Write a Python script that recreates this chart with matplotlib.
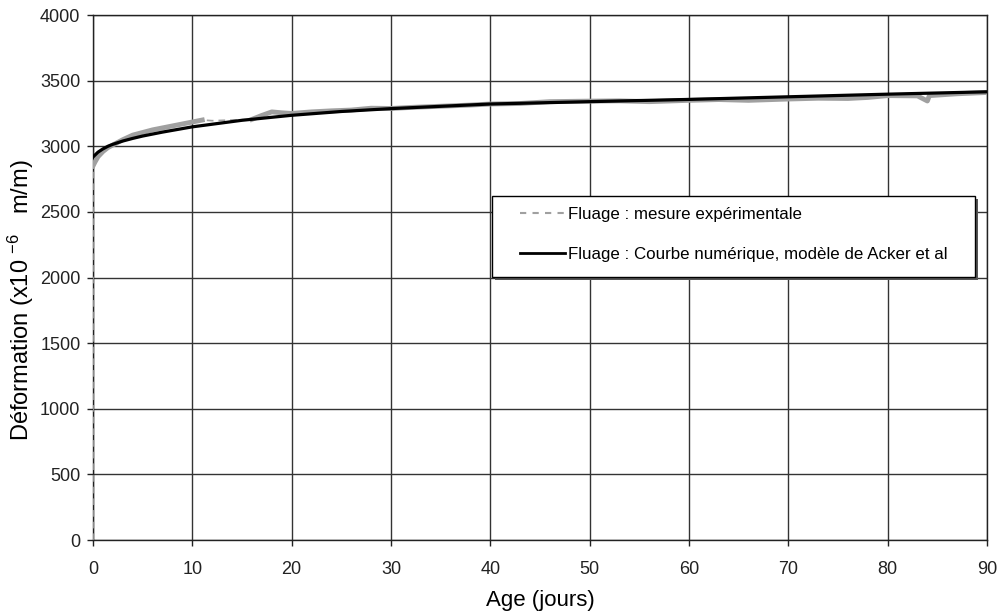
import matplotlib
matplotlib.use("Agg")
import matplotlib.pyplot as plt
from matplotlib.lines import Line2D
from matplotlib.patches import Rectangle

plt.rcParams['font.family'] = ['Liberation Sans', 'DejaVu Sans']
plt.rcParams['mathtext.fontset'] = 'custom'
plt.rcParams['mathtext.rm'] = 'Liberation Sans'
plt.rcParams['mathtext.it'] = 'Liberation Sans'
plt.rcParams['mathtext.default'] = 'rm'

# Creep test: measured strain (grey) and Acker et al. model (black)
meas_age = [0, 0, 0.2, 0.5, 1, 1.5, 2, 3, 4, 5, 6, 7, 8, 9, 10, 11,
            12, 14, 16, 17, 18, 19, 20, 22, 24, 26, 28, 30, 32, 35, 38,
            40, 43, 46, 50, 53, 56, 60, 63, 66, 70, 73, 76, 78, 80, 83,
            84, 84.2, 87, 90]
meas_strain = [0, 2850, 2880, 2920, 2960, 2990, 3010, 3050, 3085, 3105,
               3125, 3140, 3155, 3170, 3185, 3200,
               3195, 3200, 3205, 3235, 3262, 3255, 3250, 3262, 3270,
               3276, 3290, 3288, 3296, 3305, 3314,
               3322, 3326, 3340, 3344, 3346, 3340, 3350, 3356, 3350,
               3360, 3366, 3364, 3372, 3386, 3384,
               3345, 3386, 3400, 3410]

model_age = [0, 0.5, 1, 1.5, 2, 3, 4, 5, 7, 10, 15, 20, 25, 30, 40, 50,
             60, 70, 80, 90]
model_strain = [2918, 2955, 2980, 3000, 3015, 3040, 3060, 3078, 3108,
                3148, 3198, 3236, 3265, 3287, 3322, 3340, 3357, 3377,
                3397, 3415]

x_ticks = [0, 10, 20, 30, 40, 50, 60, 70, 80, 90]
y_ticks = [0, 500, 1000, 1500, 2000, 2500, 3000, 3500, 4000]

fig = plt.figure(figsize=(10.02, 6.13), dpi=100)
ax = fig.add_axes([0.0928, 0.119, 0.8922, 0.8565])

ax.set_xlim(0, 90)
ax.set_ylim(0, 4000)
ax.set_xticks(x_ticks)
ax.set_yticks(y_ticks)
ax.grid(True, color='#333333', lw=1.0)
ax.set_axisbelow(True)
for s in ax.spines.values():
    s.set_color('#222222')
    s.set_linewidth(1.0)
ax.tick_params(direction='out', length=4, width=1, colors='#222222',
               labelsize=13, labelcolor='#222222')
ax.tick_params(axis='x', pad=11)
ax.tick_params(axis='y', pad=5)

grey = '#a0a0a0'
# measured series: thin dashed trace, with the dense parts drawn thicker
ax.plot(meas_age, meas_strain, color=grey, ls=(0, (4, 3)), lw=1.2, zorder=3)
ax.plot(meas_age[1:16], meas_strain[1:16], color=grey, lw=3.5, zorder=3)
ax.plot(meas_age[18:], meas_strain[18:], color=grey, lw=3.5, zorder=3)
# model curve
ax.plot(model_age, model_strain, color='black', lw=2.3, zorder=4)

ax.set_xlabel('Age (jours)', fontsize=16, labelpad=9)
ax.set_ylabel('Déformation (x10 $^{-6}$   m/m)', fontsize=17)
ax.yaxis.set_label_coords(-0.064, 0.457)

# legend box
frame_x0, frame_y0, frame_w, frame_h = 0.4463, 0.501, 0.5403, 0.1542
ax.add_patch(Rectangle((frame_x0 + 0.003, frame_y0 - 0.005), frame_w, frame_h,
                       transform=ax.transAxes, facecolor='#555555',
                       edgecolor='none', zorder=5))
ax.add_patch(Rectangle((frame_x0, frame_y0), frame_w, frame_h,
                       transform=ax.transAxes, facecolor='white',
                       edgecolor='black', lw=1.0, zorder=6))

handles = [Line2D([], [], color=grey, ls=(0, (3, 3)), lw=1.5),
           Line2D([], [], color='black', lw=2.0)]
labels = ['Fluage : mesure expérimentale',
          'Fluage : Courbe numérique, modèle de Acker et al']
leg = ax.legend(handles, labels, loc='upper left',
                bbox_to_anchor=(0.4776, 0.634), fontsize=12.2,
                frameon=False, borderpad=0, borderaxespad=0,
                labelspacing=1.45, handlelength=2.65, handletextpad=0.2)
leg.set_zorder(7)

fig.savefig('out.png', dpi=100)
